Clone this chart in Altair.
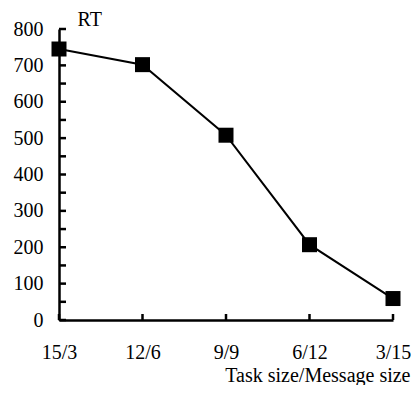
import altair as alt
import pandas as pd

categories = ["15/3", "12/6", "9/9", "6/12", "3/15"]
rt_values = [745, 702, 508, 207, 59]
y_minor_ticks = list(range(0, 801, 50))
y_labels = list(range(0, 801, 100))

df = pd.DataFrame({"cat": categories, "rt": rt_values})
ticks_y = pd.DataFrame({"rt": y_minor_ticks})
ticks_x = pd.DataFrame({"cat": categories})

FONT = "Liberation Serif"
W, H = 334, 291

x_axis = alt.Axis(
    title="Task size/Message size",
    titleX=351,
    titleY=61,
    titleAlign="right",
    titleBaseline="alphabetic",
    labelPadding=22,
    labelAngle=0,
    labelAlign="center",
    labelFlush=False,
    labelOverlap=False,
)
y_axis = alt.Axis(
    title="RT",
    titleAngle=0,
    titleX=18,
    titleY=-4,
    titleAlign="left",
    titleBaseline="alphabetic",
    values=y_labels,
    labelPadding=16,
    labelOverlap=False,
    labelFlush=False,
)
x_scale = alt.Scale(type="point", padding=0)
y_scale = alt.Scale(domain=[0, 800], nice=False)

x_enc = alt.X("cat:N", sort=categories, scale=x_scale, axis=x_axis)
y_enc = alt.Y("rt:Q", scale=y_scale, axis=y_axis)

line = alt.Chart(df).mark_line(color="black", strokeWidth=2).encode(x=x_enc, y=y_enc)
pts = alt.Chart(df).mark_square(size=225, color="black", opacity=1, filled=True).encode(
    x=x_enc, y=y_enc
)
yt = alt.Chart(ticks_y).mark_rule(color="black", strokeWidth=2.5).encode(
    y=y_enc, x=alt.value(0), x2=alt.value(7)
)
xt = alt.Chart(ticks_x).mark_rule(color="black", strokeWidth=2.5).encode(
    x=x_enc, y=alt.value(H), y2=alt.value(H - 6)
)

chart = (
    alt.layer(line, pts, yt, xt)
    .properties(
        width=W,
        height=H,
        autosize=alt.AutoSizeParams(type="none"),
        padding={"left": 51, "top": 21, "right": 18, "bottom": 65},
    )
    .configure_view(stroke=None)
    .configure_axis(
        domainColor="black",
        domainWidth=2.5,
        ticks=False,
        grid=False,
        labelFont=FONT,
        labelFontSize=20,
        labelColor="black",
        titleFont=FONT,
        titleFontSize=20,
        titleFontWeight="normal",
        titleColor="black",
    )
)

chart.save("out.html", embed_options={"renderer": "svg", "actions": False})
